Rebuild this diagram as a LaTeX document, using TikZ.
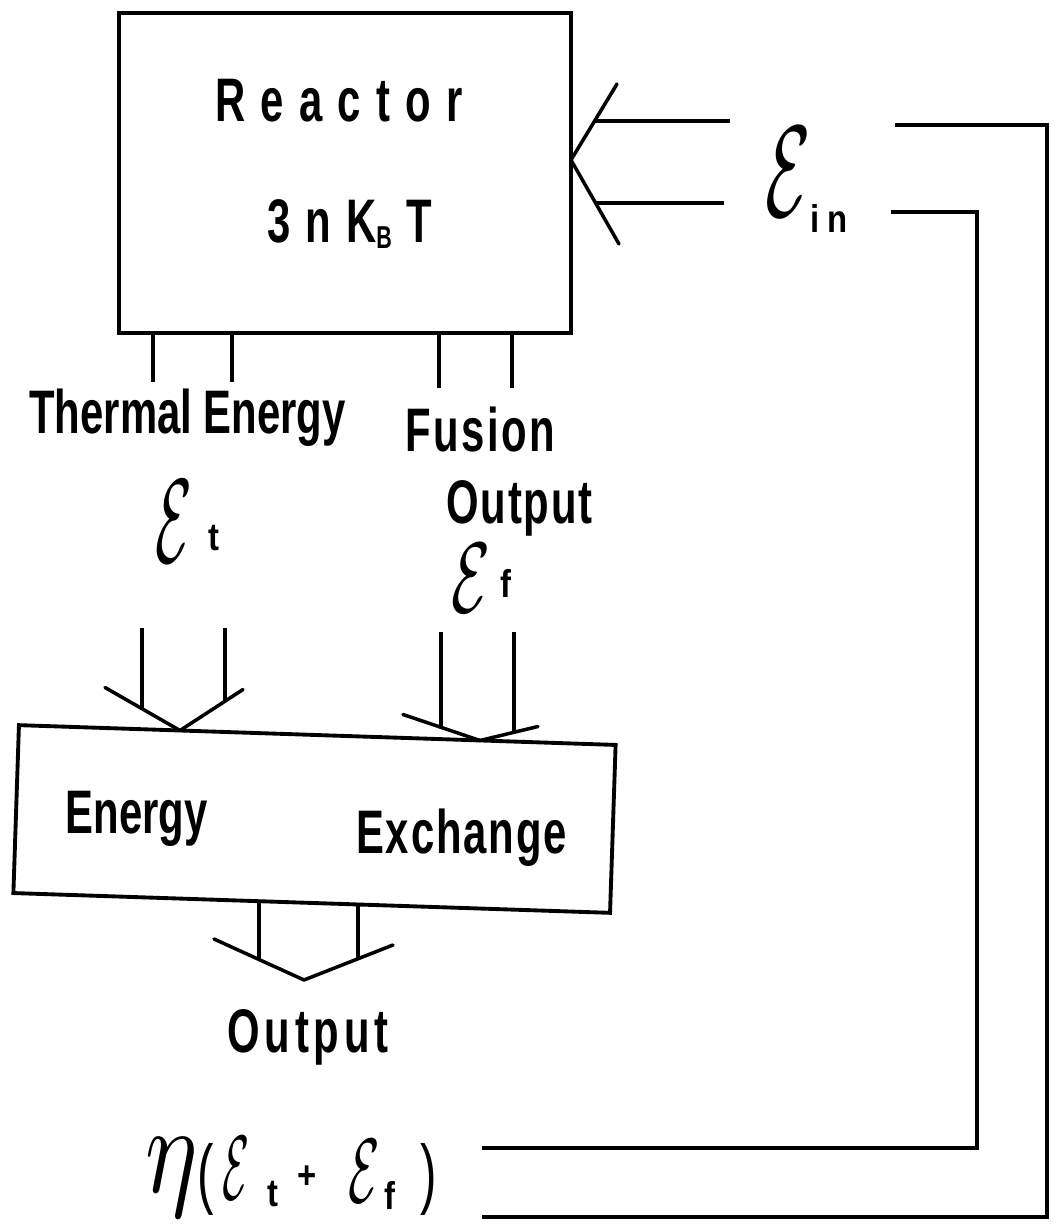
\documentclass[tikz,border=0pt]{standalone}
\usepackage{graphicx}
\usepackage{fontspec}
\newfontfamily\lettering[FakeStretch=0.68]{Liberation Sans}
\newfontfamily\subletter[FakeStretch=0.85]{Liberation Sans}
\newcommand{\Ecal}[2]{\scalebox{#1}[#2]{\normalsize$\mathcal{E}$}}

\begin{document}
\begin{tikzpicture}[
  block/.style={draw,line width=2.2pt,inner sep=0pt},
  txt/.style={font=\lettering\bfseries\fontsize{35}{40}\selectfont,anchor=base,inner sep=0pt},
  sym/.style={font=\subletter\bfseries\fontsize{22}{24}\selectfont,anchor=base west,inner sep=0pt},
  wire/.style={line width=2pt},
  chev/.style={line width=2pt,line join=round,line cap=round}]
  \useasboundingbox (0,0) rectangle (21.16,24.58);
  % the two boxes
  \node[block,minimum width=9.04cm,minimum height=6.40cm] (reactor) at (6.90,21.12) {};
  \node[block,minimum width=11.94cm,minimum height=3.36cm,rotate=-1.9] (exch) at (6.29,8.20) {};
  % texts
  \node[txt] (rname) at (6.78,22.14) {\addfontfeatures{LetterSpace=25}Reactor};
  \node[txt] (rheat) at (7.00,19.72) {\addfontfeatures{LetterSpace=5}3 n K\raisebox{-3.4pt}{\fontsize{18}{20}\selectfont B} T};
  \node[txt] (therm) at (3.75,15.90) {Thermal Energy};
  \node[txt] (fus) at (9.61,15.54) {\addfontfeatures{LetterSpace=4}Fusion};
  \node[txt] (fusout) at (10.39,14.10) {\addfontfeatures{LetterSpace=3}Output};
  \node[txt] (ename) at (2.73,7.90) {Energy};
  \node[txt] (xname) at (9.23,7.50) {\addfontfeatures{LetterSpace=3}Exchange};
  \node[txt] (out) at (6.16,3.54) {\addfontfeatures{LetterSpace=8}Output};
  \node[sym] (epsT) at (3.10,13.32) {\Ecal{3.4}{6.8}\hspace{9pt}\raisebox{7pt}{t}};
  \node[sym] (epsF) at (9.02,12.32) {\Ecal{3.6}{5.7}\hspace{6pt}\raisebox{9pt}{f}};
  \node[sym] (epsIn) at (15.30,20.24) {\Ecal{4.2}{7.4}\raisebox{-9pt}{\addfontfeatures{LetterSpace=20}in}};
  \node[sym] (eta) at (2.90,0.74) {\scalebox{5.6}[7.2]{\normalsize$\eta$}%
    \raisebox{-4.5pt}{\scalebox{1.5}[2.0]{\mdseries(}}\hspace{5pt}%
    \raisebox{-4.5pt}{\Ecal{2.5}{5.2}}\hspace{10pt}\raisebox{-8.5pt}{t}\hspace{10.9pt}%
    \raisebox{2pt}{+}\hspace{17.8pt}\raisebox{-6.2pt}{\Ecal{2.9}{5.2}}\hspace{3pt}%
    \raisebox{-10pt}{f}\hspace{14pt}\raisebox{-4.5pt}{\scalebox{1.5}[2.0]{\mdseries)}}};
  % arrow tips and loose ends
  \coordinate (inTip) at (11.42,21.38);
  \coordinate (tTip) at (3.60,9.97);
  \coordinate (fTip) at (9.60,9.77);
  \coordinate (oTip) at (6.08,4.98);
  \coordinate (st1) at (3.06,16.94);
  \coordinate (st2) at (4.64,16.94);
  \coordinate (st3) at (8.78,16.82);
  \coordinate (st4) at (10.24,16.82);
  \coordinate (fbOutA) at (17.90,22.08);
  \coordinate (fbOutB) at (9.64,0.24);
  \coordinate (fbInA) at (17.82,20.34);
  \coordinate (fbInB) at (9.64,1.62);
  % stubs under the reactor
  \draw[wire] (st1) -- (st1 |- reactor.south);
  \draw[wire] (st2) -- (st2 |- reactor.south);
  \draw[wire] (st3) -- (st3 |- reactor.south);
  \draw[wire] (st4) -- (st4 |- reactor.south);
  % input arrow
  \draw[chev] (inTip) ++(0.92,1.52) -- (inTip) -- ++(0.96,-1.68);
  \draw[wire] (inTip) ++(0.47,0.78) -- ++(2.71,0);
  \draw[wire] (inTip) ++(0.49,-0.86) -- ++(2.57,0);
  % thermal energy arrow
  \draw[chev] (tTip) ++(-1.50,0.86) -- (tTip) -- ++(1.26,0.82);
  \draw[wire] (tTip) ++(-0.76,0.436) -- ++(0,1.61);
  \draw[wire] (tTip) ++(0.90,0.586) -- ++(0,1.46);
  % fusion arrow
  \draw[chev] (fTip) ++(-1.54,0.52) -- (fTip) -- ++(1.16,0.28);
  \draw[wire] (fTip) ++(-0.78,0.263) -- ++(0,1.91);
  \draw[wire] (fTip) ++(0.68,0.164) -- ++(0,2.01);
  % output arrow
  \draw[chev] (oTip) ++(-1.80,0.82) -- (oTip) -- ++(1.78,0.70);
  \draw[wire] (oTip) ++(-0.90,0.41) -- ++(0,1.17);
  \draw[wire] (oTip) ++(1.08,0.425) -- ++(0,1.09);
  % feedback loop
  \draw[wire] (fbOutA) -- ++(3.04,0) |- (fbOutB);
  \draw[wire] (fbInA) -- ++(1.72,0) |- (fbInB);
\end{tikzpicture}
\end{document}
